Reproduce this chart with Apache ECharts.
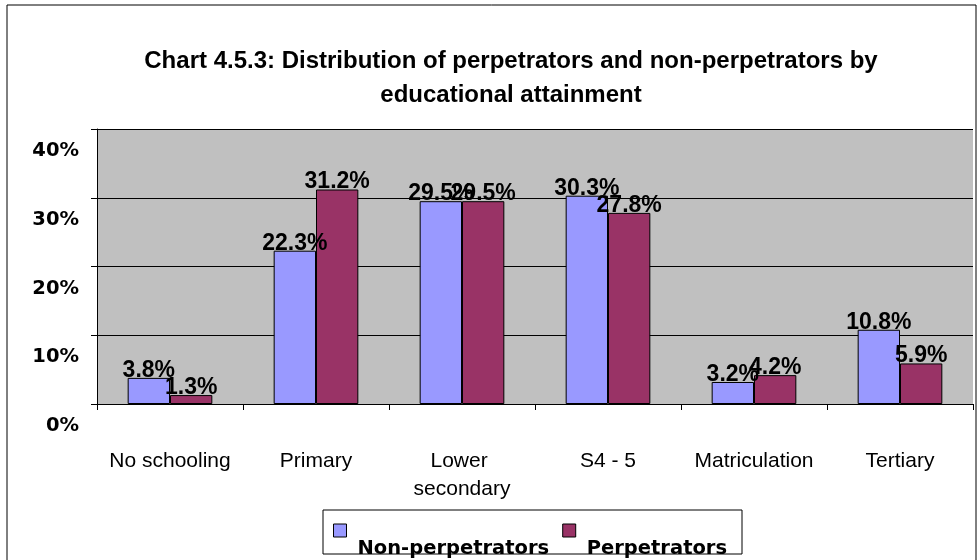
<!DOCTYPE html>
<html>
<head>
<meta charset="utf-8">
<script src="https://cdn.jsdelivr.net/npm/echarts@6/dist/echarts.min.js"></script>
<style>
  html, body { margin: 0; padding: 0; background: #fff; }
  #chart { width: 978px; height: 560px; }
</style>
</head>
<body>
<div id="chart"></div>
<script>
const categories = ['No schooling', 'Primary', 'Lower secondary', 'S4 - 5', 'Matriculation', 'Tertiary'];
const nonPerpetrators = [3.8, 22.3, 29.5, 30.3, 3.2, 10.8];
const perpetrators = [1.3, 31.2, 29.5, 27.8, 4.2, 5.9];
const seriesNames = ['Non-perpetrators', 'Perpetrators'];

const chart = echarts.init(document.getElementById('chart'));

const wideBold = 'DejaVu Sans, sans-serif';
const arial = 'Liberation Sans, Arial, sans-serif';

const labelStyle = {
  show: true,
  position: 'top',
  distance: -4,
  color: '#000',
  fontFamily: arial,
  fontWeight: 'bold',
  fontSize: 23,
  formatter: p => p.value.toFixed(1) + '%'
};

const option = {
  animation: false,
  textStyle: { fontFamily: arial },
  title: {
    text: 'Chart 4.5.3: Distribution of perpetrators and non-perpetrators by\neducational attainment',
    left: 506,
    top: 39,
    textAlign: 'center',
    textStyle: { fontFamily: arial, fontSize: 24, fontWeight: 'bold', color: '#000', lineHeight: 34 }
  },
  graphic: [
    { type: 'rect', shape: { x: 7, y: 5, width: 969, height: 560 }, style: { fill: 'none', stroke: '#000', lineWidth: 1 }, z: -1 },
    { type: 'rect', shape: { x: 323, y: 510, width: 419, height: 44 }, style: { fill: 'none', stroke: '#000', lineWidth: 1 }, z: 10 }
  ],
  legend: {
    data: seriesNames,
    left: 333,
    top: 520,
    padding: 0,
    itemWidth: 13,
    itemHeight: 13,
    itemGap: 13,
    icon: 'rect',
    itemStyle: { borderColor: '#000', borderWidth: 1 },
    formatter: name => '{g| }\n{t|' + name + '}',
    textStyle: {
      rich: {
        g: { fontSize: 1, lineHeight: 36 },
        t: { fontFamily: wideBold, fontSize: 19.5, fontWeight: 'bold', color: '#000', lineHeight: 20, padding: [0, 0, 0, 6] }
      }
    }
  },
  grid: { left: 97, right: 5, top: 129, bottom: 156, containLabel: false, show: true, backgroundColor: '#c0c0c0', borderWidth: 0 },
  xAxis: {
    type: 'category',
    data: categories,
    axisLine: { lineStyle: { color: '#000', width: 1 } },
    axisTick: { show: true, length: 6, lineStyle: { color: '#000' } },
    axisLabel: { color: '#000', fontSize: 21, margin: 43, lineHeight: 28, width: 135, overflow: 'break', interval: 0 }
  },
  yAxis: {
    type: 'value',
    min: 0,
    max: 40,
    interval: 10,
    axisLine: { show: true, lineStyle: { color: '#000', width: 1 } },
    axisTick: { show: true, length: 6, lineStyle: { color: '#000' } },
    splitLine: { lineStyle: { color: '#000', width: 1 } },
    axisLabel: { color: '#000', fontFamily: wideBold, fontSize: 19.5, fontWeight: 'bold', margin: 18, verticalAlign: 'top', padding: [12, 0, 0, 0], formatter: '{value}%' }
  },
  series: [
    {
      name: seriesNames[0],
      type: 'bar',
      data: nonPerpetrators,
      barWidth: '29%',
      barGap: '0%',
      itemStyle: { color: '#9999ff', borderColor: '#000', borderWidth: 1 },
      label: labelStyle
    },
    {
      name: seriesNames[1],
      type: 'bar',
      data: perpetrators,
      barWidth: '29%',
      barGap: '0%',
      itemStyle: { color: '#993366', borderColor: '#000', borderWidth: 1 },
      label: labelStyle
    }
  ]
};

chart.setOption(option);
</script>
</body>
</html>
